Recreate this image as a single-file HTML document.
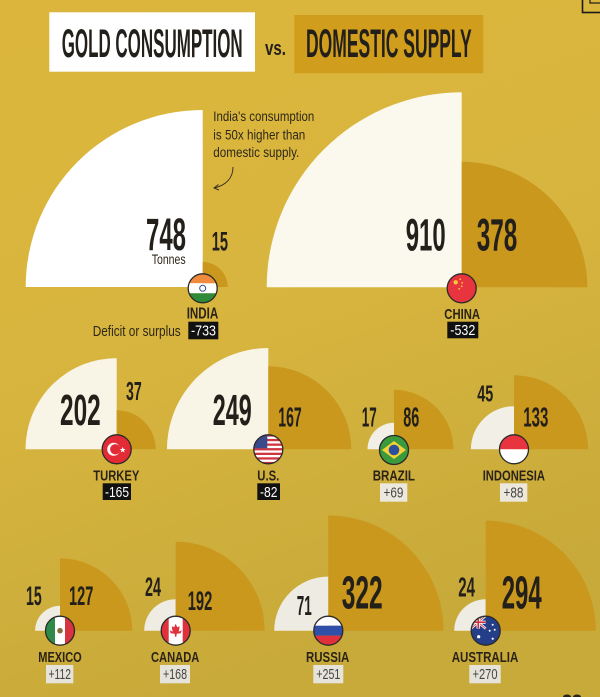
<!DOCTYPE html>
<html><head><meta charset="utf-8"><style>
html,body{margin:0;padding:0;}
body{width:600px;height:697px;overflow:hidden;}
svg{display:block;}
.n{font-family:"Liberation Sans",sans-serif;font-weight:bold;fill:#231f1a;}
.c{font-family:"Liberation Sans",sans-serif;font-weight:bold;fill:#2b2416;}
.t{font-family:"Liberation Sans",sans-serif;fill:#2e2818;}
.bw{font-family:"Liberation Sans",sans-serif;fill:#ffffff;}
.bl{font-family:"Liberation Sans",sans-serif;fill:#454545;}
</style></head><body>
<svg width="600" height="697" viewBox="0 0 600 697" xmlns="http://www.w3.org/2000/svg">
<defs>
<linearGradient id="bg" x1="0" y1="0" x2="0.3" y2="1">
<stop offset="0" stop-color="#dcb63c"/>
<stop offset="0.5" stop-color="#d8b53e"/>
<stop offset="1" stop-color="#c8aa3a"/>
</linearGradient>
<clipPath id="fc"><circle cx="0" cy="0" r="14.5"/></clipPath>
</defs>
<rect width="600" height="697" fill="url(#bg)"/>

<!-- Title -->
<rect x="49.3" y="12.3" width="205.7" height="59.4" fill="#ffffff"/>
<text class="n" x="61.7" y="57" font-size="40" textLength="181" lengthAdjust="spacingAndGlyphs" fill="#1e1e1e">GOLD CONSUMPTION</text>
<text class="n" x="265" y="55" font-size="20" textLength="21" lengthAdjust="spacingAndGlyphs">vs.</text>
<rect x="294.3" y="15" width="189" height="58.3" fill="#d09e1c"/>
<text class="n" x="306" y="57" font-size="40" textLength="165.7" lengthAdjust="spacingAndGlyphs" fill="#1e1e1e">DOMESTIC SUPPLY</text>
<rect x="582.5" y="-3" width="20" height="15.5" fill="none" stroke="#1a1a1a" stroke-width="1.6"/>
<rect x="590" y="-3" width="12" height="6" fill="none" stroke="#1a1a1a" stroke-width="1.2"/>

<!-- Quarters: consumption (left-up), supply (right-up) -->
<!-- India -->
<path d="M202.7,287 L25.7,287 A177,177 0 0 1 202.7,110 Z" fill="#ffffff"/>
<path d="M202.7,287 L202.7,262 A25,25 0 0 1 227.7,287 Z" fill="#c9981c"/>
<!-- China -->
<path d="M461.7,287.3 L266.7,287.3 A195,195 0 0 1 461.7,92.3 Z" fill="#fbf8ee"/>
<path d="M461.7,287.3 L461.7,161.7 A125.6,125.6 0 0 1 587.3,287.3 Z" fill="#c9981c"/>
<!-- Turkey -->
<path d="M116.7,449.3 L25.5,449.3 A91.2,91.2 0 0 1 116.7,358.1 Z" fill="#f8f4e6"/>
<path d="M116.7,449.3 L116.7,410.3 A39,39 0 0 1 155.7,449.3 Z" fill="#c9981c"/>
<!-- US -->
<path d="M268.3,449.3 L167,449.3 A101.3,101.3 0 0 1 268.3,348 Z" fill="#f8f4e6"/>
<path d="M268.3,449.3 L268.3,366.3 A83,83 0 0 1 351.3,449.3 Z" fill="#c9981c"/>
<!-- Brazil -->
<path d="M394,449.3 L367.5,449.3 A26.5,26.5 0 0 1 394,422.8 Z" fill="#f2efe6"/>
<path d="M394,449.3 L394,389.8 A59.5,59.5 0 0 1 453.5,449.3 Z" fill="#c9981c"/>
<!-- Indonesia -->
<path d="M514,449.3 L470.9,449.3 A43.1,43.1 0 0 1 514,406.2 Z" fill="#f2efe6"/>
<path d="M514,449.3 L514,375.3 A74,74 0 0 1 588,449.3 Z" fill="#c9981c"/>
<!-- Mexico -->
<path d="M60,630.7 L35.1,630.7 A24.9,24.9 0 0 1 60,605.8 Z" fill="#efece4"/>
<path d="M60,630.7 L60,558.4 A72.3,72.3 0 0 1 132.3,630.7 Z" fill="#c9981c"/>
<!-- Canada -->
<path d="M175.7,630.7 L144.2,630.7 A31.5,31.5 0 0 1 175.7,599.2 Z" fill="#efece4"/>
<path d="M175.7,630.7 L175.7,541.7 A89,89 0 0 1 264.7,630.7 Z" fill="#c9981c"/>
<!-- Russia -->
<path d="M328.3,630.7 L274.2,630.7 A54.1,54.1 0 0 1 328.3,576.6 Z" fill="#eeebe3"/>
<path d="M328.3,630.7 L328.3,515.5 A115.2,115.2 0 0 1 443.5,630.7 Z" fill="#c9981c"/>
<!-- Australia -->
<path d="M485.7,630.7 L454.2,630.7 A31.5,31.5 0 0 1 485.7,599.2 Z" fill="#efece4"/>
<path d="M485.7,630.7 L485.7,520.6 A110.1,110.1 0 0 1 595.8,630.7 Z" fill="#c9981c"/>

<!-- Annotation -->
<text class="t" x="213.3" y="121" font-size="13.5" textLength="101" lengthAdjust="spacingAndGlyphs">India's consumption</text>
<text class="t" x="213.3" y="139.3" font-size="13.5" textLength="92" lengthAdjust="spacingAndGlyphs">is 50x higher than</text>
<text class="t" x="213.3" y="157" font-size="13.5" textLength="86" lengthAdjust="spacingAndGlyphs">domestic supply.</text>
<path d="M233,167 C233,178 226,185 214.5,188" fill="none" stroke="#3a3020" stroke-width="1"/>
<path d="M218.5,184.5 L214,188 L219,190" fill="none" stroke="#3a3020" stroke-width="1"/>

<!-- Numbers -->
<text class="n" x="146" y="250" font-size="45" textLength="40" lengthAdjust="spacingAndGlyphs">748</text>
<text class="t" x="151.7" y="264" font-size="14" textLength="34" lengthAdjust="spacingAndGlyphs">Tonnes</text>
<text class="n" x="211.7" y="250.7" font-size="26.5" textLength="16.3" lengthAdjust="spacingAndGlyphs">15</text>
<text class="n" x="405.7" y="250.7" font-size="45" textLength="40" lengthAdjust="spacingAndGlyphs">910</text>
<text class="n" x="476.7" y="250.7" font-size="45" textLength="40.6" lengthAdjust="spacingAndGlyphs">378</text>

<text class="n" x="60" y="425" font-size="44" textLength="40.7" lengthAdjust="spacingAndGlyphs">202</text>
<text class="n" x="126" y="400" font-size="25.5" textLength="15.7" lengthAdjust="spacingAndGlyphs">37</text>
<text class="n" x="212.7" y="425" font-size="44" textLength="39" lengthAdjust="spacingAndGlyphs">249</text>
<text class="n" x="278.3" y="426.7" font-size="28" textLength="23.4" lengthAdjust="spacingAndGlyphs">167</text>
<text class="n" x="361.7" y="426.7" font-size="28" textLength="15" lengthAdjust="spacingAndGlyphs">17</text>
<text class="n" x="403.3" y="426.7" font-size="28" textLength="16" lengthAdjust="spacingAndGlyphs">86</text>
<text class="n" x="477.3" y="401.7" font-size="23.5" textLength="16" lengthAdjust="spacingAndGlyphs">45</text>
<text class="n" x="523.3" y="426.7" font-size="28" textLength="25" lengthAdjust="spacingAndGlyphs">133</text>

<text class="n" x="26" y="605" font-size="26.5" textLength="15.7" lengthAdjust="spacingAndGlyphs">15</text>
<text class="n" x="69" y="605" font-size="26.5" textLength="24.3" lengthAdjust="spacingAndGlyphs">127</text>
<text class="n" x="145" y="596" font-size="27" textLength="16" lengthAdjust="spacingAndGlyphs">24</text>
<text class="n" x="187.7" y="610" font-size="27" textLength="24.6" lengthAdjust="spacingAndGlyphs">192</text>
<text class="n" x="296.7" y="615" font-size="28" textLength="15" lengthAdjust="spacingAndGlyphs">71</text>
<text class="n" x="341.7" y="608.3" font-size="46" textLength="41" lengthAdjust="spacingAndGlyphs">322</text>
<text class="n" x="458.3" y="596.7" font-size="28" textLength="16.7" lengthAdjust="spacingAndGlyphs">24</text>
<text class="n" x="501.7" y="608.3" font-size="46" textLength="40" lengthAdjust="spacingAndGlyphs">294</text>

<!-- Flags -->
<!-- India -->
<g transform="translate(202.7,288.3)"><g clip-path="url(#fc)">
<rect x="-15" y="-15" width="30" height="10" fill="#f08a3c"/><rect x="-15" y="-5" width="30" height="10" fill="#ffffff"/><rect x="-15" y="5" width="30" height="10" fill="#2f8a3a"/>
<circle r="3" fill="none" stroke="#2a4a9a" stroke-width="1"/></g>
<circle r="14.5" fill="none" stroke="#2a2a2a" stroke-width="1.3"/></g>
<!-- China -->
<g transform="translate(461.7,288.3)"><circle r="14.5" fill="#e8343f"/>
<circle cx="-6" cy="-6" r="2.2" fill="#f5c938"/><circle cx="-1.5" cy="-9" r="0.9" fill="#f5c938"/><circle cx="0.5" cy="-5.5" r="0.9" fill="#f5c938"/><circle cx="0" cy="-2" r="0.9" fill="#f5c938"/><circle cx="-2.5" cy="0.5" r="0.9" fill="#f5c938"/>
<circle r="14.5" fill="none" stroke="#2a2a2a" stroke-width="1.3"/></g>
<!-- Turkey -->
<g transform="translate(116.7,449.3)"><circle r="14.5" fill="#e32b35"/>
<circle cx="-3" cy="0" r="6.5" fill="#ffffff"/><circle cx="-1.4" cy="0" r="5.2" fill="#e32b35"/>
<path d="M6,-2.5 L6.8,-0.3 L9,-0.3 L7.2,1 L7.9,3.2 L6,1.9 L4.1,3.2 L4.8,1 L3,-0.3 L5.2,-0.3 Z" fill="#ffffff"/>
<circle r="14.5" fill="none" stroke="#2a2a2a" stroke-width="1.3"/></g>
<!-- US -->
<g transform="translate(268.3,449.3)"><g clip-path="url(#fc)">
<rect x="-15" y="-15" width="30" height="30" fill="#ffffff"/>
<rect x="-15" y="-15" width="30" height="2.3" fill="#d0343f"/><rect x="-15" y="-10.4" width="30" height="2.3" fill="#d0343f"/><rect x="-15" y="-5.8" width="30" height="2.3" fill="#d0343f"/><rect x="-15" y="-1.2" width="30" height="2.3" fill="#d0343f"/><rect x="-15" y="3.4" width="30" height="2.3" fill="#d0343f"/><rect x="-15" y="8" width="30" height="2.3" fill="#d0343f"/><rect x="-15" y="12.6" width="30" height="2.3" fill="#d0343f"/>
<rect x="-15" y="-15" width="14" height="14" fill="#3a4a8c"/></g>
<circle r="14.5" fill="none" stroke="#2a2a2a" stroke-width="1.3"/></g>
<!-- Brazil -->
<g transform="translate(394,450)"><circle r="14.5" fill="#3a9a3c"/>
<path d="M-12,0 L0,-9 L12,0 L0,9 Z" fill="#f3d235"/><circle r="5.3" fill="#2c4f9e"/>
<circle r="14.5" fill="none" stroke="#2a2a2a" stroke-width="1.3"/></g>
<!-- Indonesia -->
<g transform="translate(514,449.3)"><g clip-path="url(#fc)">
<rect x="-15" y="-15" width="30" height="15" fill="#e8343f"/><rect x="-15" y="0" width="30" height="15" fill="#ffffff"/></g>
<circle r="14.5" fill="none" stroke="#2a2a2a" stroke-width="1.3"/></g>
<!-- Mexico -->
<g transform="translate(60,630.7)"><g clip-path="url(#fc)">
<rect x="-15" y="-15" width="10" height="30" fill="#2f8a4a"/><rect x="-5" y="-15" width="10" height="30" fill="#ffffff"/><rect x="5" y="-15" width="10" height="30" fill="#d8343f"/>
<circle r="2.8" fill="#8a6a3a"/></g>
<circle r="14.5" fill="none" stroke="#2a2a2a" stroke-width="1.3"/></g>
<!-- Canada -->
<g transform="translate(175.7,630.7)"><g clip-path="url(#fc)">
<rect x="-15" y="-15" width="30" height="30" fill="#ffffff"/><rect x="-15" y="-15" width="8" height="30" fill="#e0303b"/><rect x="7" y="-15" width="8" height="30" fill="#e0303b"/>
<path d="M0,-7 L1.5,-3.5 L4,-4.5 L3,1 L6,-0.5 L5,2.5 L1,3 L0.6,6 L-0.6,6 L-1,3 L-5,2.5 L-6,-0.5 L-3,1 L-4,-4.5 L-1.5,-3.5 Z" fill="#e0303b"/></g>
<circle r="14.5" fill="none" stroke="#2a2a2a" stroke-width="1.3"/></g>
<!-- Russia -->
<g transform="translate(328.3,630.7)"><g clip-path="url(#fc)">
<rect x="-15" y="-15" width="30" height="10" fill="#ffffff"/><rect x="-15" y="-5" width="30" height="10" fill="#2f4fa8"/><rect x="-15" y="5" width="30" height="10" fill="#e0303b"/></g>
<circle r="14.5" fill="none" stroke="#2a2a2a" stroke-width="1.3"/></g>
<!-- Australia -->
<g transform="translate(485.7,630.7)"><g clip-path="url(#fc)">
<rect x="-15" y="-15" width="30" height="30" fill="#243e8a"/>
<rect x="-15" y="-15" width="15" height="13" fill="#243e8a"/>
<path d="M-15,-15 L0,-2 M0,-15 L-15,-2" stroke="#ffffff" stroke-width="2.4"/>
<path d="M-15,-15 L0,-2 M0,-15 L-15,-2" stroke="#d0343f" stroke-width="0.9"/>
<path d="M-7.5,-15 L-7.5,-2 M-15,-8.5 L0,-8.5" stroke="#ffffff" stroke-width="3.2"/>
<path d="M-7.5,-15 L-7.5,-2 M-15,-8.5 L0,-8.5" stroke="#d0343f" stroke-width="1.6"/>
<circle cx="-7" cy="6" r="1.6" fill="#fff"/><circle cx="7" cy="-6" r="1" fill="#fff"/><circle cx="4" cy="0" r="1" fill="#fff"/><circle cx="9" cy="-1" r="1" fill="#fff"/><circle cx="7" cy="8" r="1.1" fill="#fff"/></g>
<circle r="14.5" fill="none" stroke="#2a2a2a" stroke-width="1.3"/></g>

<!-- Country names -->
<text class="c" x="186.7" y="318.3" font-size="16" textLength="31.6" lengthAdjust="spacingAndGlyphs">INDIA</text>
<text class="c" x="444.3" y="319" font-size="15" textLength="35.7" lengthAdjust="spacingAndGlyphs">CHINA</text>
<text class="c" x="93.3" y="480.5" font-size="14.5" textLength="46" lengthAdjust="spacingAndGlyphs">TURKEY</text>
<text class="c" x="257.3" y="480.5" font-size="14.5" textLength="22" lengthAdjust="spacingAndGlyphs">U.S.</text>
<text class="c" x="372.7" y="480.5" font-size="14.5" textLength="42.3" lengthAdjust="spacingAndGlyphs">BRAZIL</text>
<text class="c" x="482.7" y="480.5" font-size="14.5" textLength="62.3" lengthAdjust="spacingAndGlyphs">INDONESIA</text>
<text class="c" x="38.3" y="662" font-size="14.5" textLength="43.4" lengthAdjust="spacingAndGlyphs">MEXICO</text>
<text class="c" x="151" y="662" font-size="14.5" textLength="48.3" lengthAdjust="spacingAndGlyphs">CANADA</text>
<text class="c" x="306" y="662" font-size="14.5" textLength="43.3" lengthAdjust="spacingAndGlyphs">RUSSIA</text>
<text class="c" x="451.7" y="662" font-size="14.5" textLength="66.6" lengthAdjust="spacingAndGlyphs">AUSTRALIA</text>

<!-- Deficit label -->
<text class="t" x="92.7" y="336" font-size="15" textLength="88" lengthAdjust="spacingAndGlyphs">Deficit or surplus</text>

<!-- Value boxes -->
<rect x="188.3" y="321.7" width="30" height="17.6" fill="#111"/>
<text class="bw" x="191" y="335.5" font-size="15" textLength="25" lengthAdjust="spacingAndGlyphs">-733</text>
<rect x="447.3" y="321.7" width="31" height="16.6" fill="#111"/>
<text class="bw" x="450.3" y="335" font-size="15" textLength="25" lengthAdjust="spacingAndGlyphs">-532</text>
<rect x="102.7" y="483.3" width="28.3" height="16.7" fill="#111"/>
<text class="bw" x="105" y="497" font-size="14.5" textLength="24" lengthAdjust="spacingAndGlyphs">-165</text>
<rect x="257.3" y="483.3" width="22.7" height="16.7" fill="#111"/>
<text class="bw" x="260" y="497" font-size="14.5" textLength="17.5" lengthAdjust="spacingAndGlyphs">-82</text>
<rect x="380" y="483.3" width="27.3" height="18.4" fill="#ece8dd"/>
<text class="bl" x="383.5" y="497.5" font-size="14.5" textLength="20" lengthAdjust="spacingAndGlyphs">+69</text>
<rect x="500" y="483.3" width="27.3" height="18.4" fill="#ece8dd"/>
<text class="bl" x="503.5" y="497.5" font-size="14.5" textLength="20" lengthAdjust="spacingAndGlyphs">+88</text>
<rect x="46" y="665" width="27.3" height="18.3" fill="#e6e3da"/>
<text class="bl" x="48.5" y="679" font-size="14.5" textLength="22.5" lengthAdjust="spacingAndGlyphs">+112</text>
<rect x="160" y="665" width="30" height="18.3" fill="#e6e3da"/>
<text class="bl" x="163" y="679" font-size="14.5" textLength="24" lengthAdjust="spacingAndGlyphs">+168</text>
<rect x="313.3" y="665" width="30" height="18.3" fill="#e6e3da"/>
<text class="bl" x="316.3" y="679" font-size="14.5" textLength="24" lengthAdjust="spacingAndGlyphs">+251</text>
<rect x="469.3" y="665" width="31.4" height="18.3" fill="#e6e3da"/>
<text class="bl" x="472.5" y="679" font-size="14.5" textLength="25" lengthAdjust="spacingAndGlyphs">+270</text>

<!-- bottom-right partial mark -->
<ellipse cx="567" cy="697" rx="4" ry="2.5" fill="#2a2418"/>
<ellipse cx="577" cy="697" rx="4" ry="2.5" fill="#2a2418"/>
</svg>
</body></html>
